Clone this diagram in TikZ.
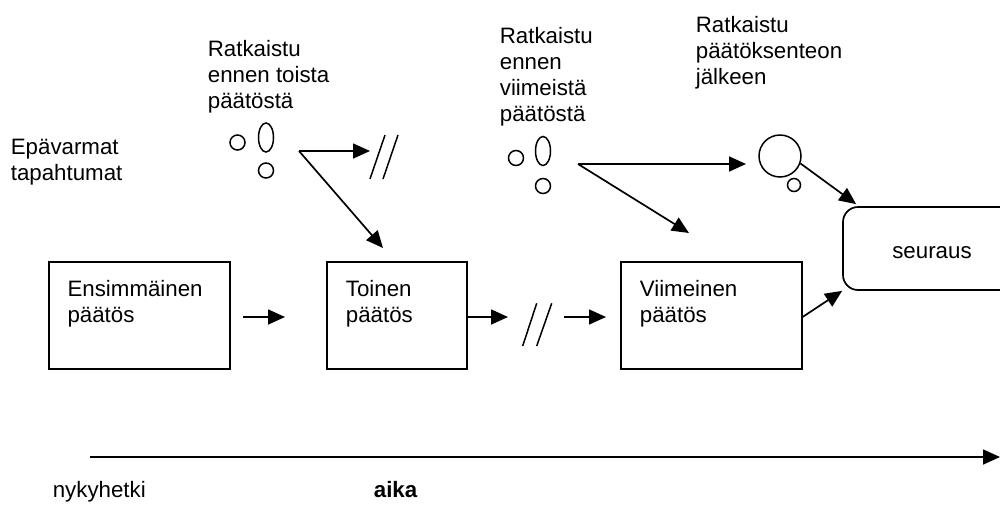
\documentclass[tikz,border=0pt]{standalone}
\usepackage{fontspec}
\setmainfont{Liberation Sans}
\usetikzlibrary{arrows.meta,shapes.geometric}
\begin{document}
\begin{tikzpicture}[x=1pt,y=-1pt,
  line width=1.7pt,
  arr/.style={-{Triangle[length=17pt,width=15pt]}},
  lab/.style={font=\fontsize{22.3}{26}\selectfont, inner sep=0pt, align=left, anchor=base west},
  box/.style={draw, minimum height=107pt, inner sep=0pt},
  ev/.style={draw, line width=1.5pt, inner sep=0pt},
  ssmall/.style={ev, circle, minimum size=15pt},
  oval/.style={ev, ellipse, minimum width=15pt, minimum height=29pt},
  slash/.style={line width=1.5pt}
]
\useasboundingbox (0,0) rectangle (1000,509);

% labels (anchored at the baseline of their last line)
\node[lab] (l0) at (10,180.7) {Epävarmat\\tapahtumat};
\node[lab] (l1) at (207,108.5) {Ratkaistu\\ennen toista\\päätöstä};
\node[lab] (l2) at (499,121.5) {Ratkaistu\\ennen\\viimeistä\\päätöstä};
\node[lab] (l3) at (695,84) {Ratkaistu\\päätöksenteon\\jälkeen};

% boxes
\node[box, minimum width=181pt] (b1) at (139.5,315.5) {};
\node[box, minimum width=140pt] (b2) at (397,315.5) {};
\node[box, minimum width=181pt] (b3) at (711.2,315.5) {};
\node[lab] (t1) at (66.7,322.5) {Ensimmäinen\\päätös};
\node[lab] (t2) at (345,322.5) {Toinen\\päätös};
\node[lab] (t3) at (639,322.5) {Viimeinen\\päätös};
\node[draw, rounded corners=15pt, minimum width=178pt, minimum height=83pt, inner sep=0pt] (sr) at (932,248.5) {};
\node[lab, anchor=base] (srt) at (932,258) {seuraus};

% uncertain events, group 1
\node[ssmall] (e1a) at (237.5,142.5) {};
\node[oval] (e1b) at (266,137.5) {};
\node[ssmall] (e1c) at (266,170.5) {};
\coordinate (s1) at (299,151);
\coordinate (h1) at (370,151);
\coordinate (d1) at (383,248);
\draw[arr] (s1) -- (h1);
\draw[arr] (s1) -- (d1);
\draw[slash] (385,135) -- (370,179);
\draw[slash] (398,135) -- (383,179);

% group 2
\node[ssmall] (e2a) at (516,158) {};
\node[oval] (e2b) at (543,151) {};
\node[ssmall] (e2c) at (543,186) {};
\coordinate (s2) at (578,164);
\coordinate (h2) at (746,164);
\coordinate (d2) at (689,233);
\node[ev, circle, minimum size=42pt] (bigc) at (780,156) {};
\node[ev, circle, minimum size=13pt] (smc) at (794,185) {};
\draw[arr] (s2) -- (h2);
\draw[arr] (s2) -- (d2);
\draw[arr] (bigc.-20) -- ([xshift=14pt,yshift=2pt]sr.north west);

% arrows between decisions
\coordinate (a1s) at (243,317);
\coordinate (a1e) at (285,317);
\draw[arr] (a1s) -- (a1e);
\coordinate (a2e) at (508,317);
\draw[arr] (b2.east |- a2e) -- (a2e);
\draw[slash] (536.7,303.3) -- (522.7,346);
\draw[slash] (551.7,303.3) -- (536.7,346);
\coordinate (a3s) at (564,317);
\coordinate (a3e) at (606,317);
\draw[arr] (a3s) -- (a3e);
\draw[arr] (b3.east |- 0,317) -- (sr.south west);

% time axis
\coordinate (ta) at (90,457);
\coordinate (tb) at (1000,457);
\draw[arr] (ta) -- (tb);
\node[lab] (now) at (52,497.5) {nykyhetki};
\node[lab, font=\fontsize{22.3}{26}\selectfont\bfseries] (aika) at (373,497.5) {aika};
\end{tikzpicture}
\end{document}
